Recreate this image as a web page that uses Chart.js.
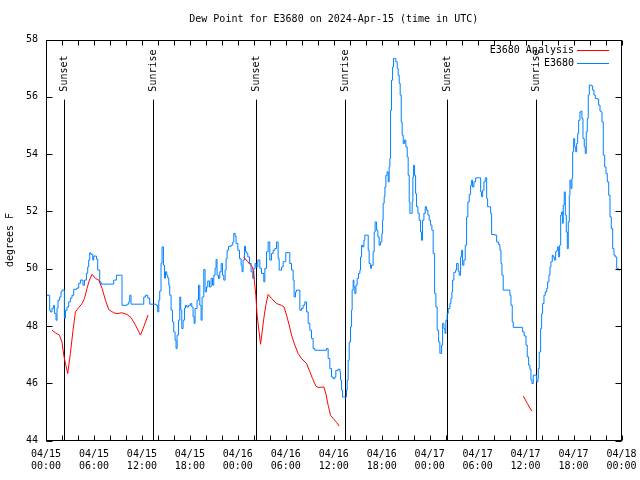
<!DOCTYPE html>
<html>
<head>
<meta charset="utf-8">
<script src="https://cdn.jsdelivr.net/npm/chart.js@4.4.1/dist/chart.umd.min.js"></script>
<style>
html,body{margin:0;padding:0;background:#fff;}
canvas{display:block;}
</style>
</head>
<body>
<canvas id="c" width="640" height="480"></canvas>
<script>
// ---- data (hours since 2024-04-15 00:00 UTC, degrees F) ----
const chartTitle = 'Dew Point for E3680 on 2024-Apr-15 (time in UTC)';
const yAxisTitle = 'degrees F';
const tickDates = ['04/15','04/15','04/15','04/15','04/16','04/16','04/16','04/16','04/17','04/17','04/17','04/17','04/18'];
const tickTimes = ['00:00','06:00','12:00','18:00','00:00','06:00','12:00','18:00','00:00','06:00','12:00','18:00','00:00'];
const seriesNames = ['E3680 Analysis', 'E3680'];
const sunsetHours = [2.25, 26.29, 50.19];
const sunriseHours = [13.39, 37.35, 61.33];

// observed station dew point [hour, degF]
const observed = [
[0.05,49.07],[0.46,48.55],[0.55,48.49],[0.75,48.62],[0.96,48.72],[1.05,48.44],[1.25,48.20],[1.38,48.62],[1.50,48.90],[1.71,49.01],
[1.88,49.19],[2.00,49.25],[2.30,48.27],[2.43,48.55],[2.63,48.66],[2.84,48.84],[3.05,48.97],[3.25,49.07],[3.47,49.28],[3.88,49.32],
[4.09,49.49],[4.31,49.60],[4.63,49.42],[4.81,49.60],[5.06,49.84],[5.22,50.06],[5.34,50.30],[5.47,50.55],[5.63,50.50],[5.85,50.30],
[5.97,50.44],[6.31,50.33],[6.47,49.95],[6.72,49.54],[6.88,49.46],[8.26,49.46],[8.47,49.60],[8.81,49.77],[9.31,49.77],[9.51,48.72],
[10.14,48.76],[10.35,48.84],[10.48,49.07],[10.64,48.76],[12.02,48.76],[12.23,49.01],[12.44,49.07],[12.73,48.97],[12.98,48.76],
[13.14,48.76],[13.77,48.72],[13.98,48.49],[14.11,48.90],[14.23,49.22],[14.39,50.19],[14.52,50.76],[14.69,50.12],[14.82,49.67],[14.95,49.89],
[15.11,49.77],[15.23,49.67],[15.36,49.42],[15.48,49.07],[15.65,48.55],[15.82,48.14],[15.98,47.79],[16.15,47.50],[16.27,47.21],[16.40,47.68],
[16.57,48.20],[16.74,49.01],[16.86,48.55],[16.99,47.91],[17.15,48.20],[17.32,48.62],[17.45,48.72],[17.61,48.66],[17.82,48.72],[18.07,48.78],
[18.24,48.66],[18.40,48.32],[18.53,48.09],[18.65,48.61],[18.90,48.90],[19.08,49.42],[19.24,48.72],[19.40,48.20],[19.53,49.01],[19.74,49.97],
[19.90,49.19],[20.08,49.36],[20.24,49.57],[20.45,49.36],[20.65,49.66],[20.83,49.42],[20.99,49.77],[21.15,50.01],[21.28,50.32],[21.40,49.77],
[21.58,49.66],[21.74,49.89],[21.91,50.18],[22.08,49.77],[22.24,49.60],[22.41,49.95],[22.53,50.35],[22.66,50.64],[22.83,50.78],[23.16,50.82],
[23.37,50.93],[23.50,51.23],[23.66,51.13],[23.78,50.88],[24.00,50.64],[24.21,50.35],[24.41,50.12],[24.53,49.89],[24.66,50.30],[24.83,50.78],
[24.96,50.59],[25.12,50.53],[25.25,50.41],[25.46,50.18],[25.66,49.89],[25.87,49.66],[26.00,50.01],[26.16,50.18],[26.29,50.06],[26.50,50.30],
[26.75,50.01],[26.96,49.83],[27.25,49.54],[27.38,50.01],[27.59,50.59],[27.79,50.93],[28.00,50.30],[28.21,50.53],[28.41,50.64],[28.63,50.70],
[28.84,50.93],[29.04,50.35],[29.17,49.95],[29.47,50.06],[29.67,50.24],[30.00,50.56],[30.29,50.56],[30.50,50.18],[30.72,49.95],[30.92,49.60],
[31.04,49.01],[31.22,49.19],[31.34,49.25],[31.54,49.25],[31.76,48.55],[31.97,48.61],[32.17,48.72],[32.38,48.84],[32.59,48.49],[32.80,48.09],
[33.01,47.85],[33.22,47.56],[33.42,47.21],[33.63,47.15],[35.10,47.21],[35.30,46.86],[35.51,46.51],[35.72,46.22],[35.92,46.16],[36.14,46.22],
[36.26,46.45],[36.55,46.49],[36.76,46.40],[36.85,46.11],[36.98,45.76],[37.10,45.52],[37.39,45.52],[37.60,45.76],[37.68,46.11],[37.80,46.80],
[37.93,47.44],[38.10,47.97],[38.23,48.55],[38.30,49.25],[38.43,49.60],[38.52,49.36],[38.64,49.13],[38.77,49.42],[38.93,49.66],[39.10,49.83],
[39.27,49.95],[39.35,50.41],[39.48,50.82],[39.60,50.76],[39.77,50.99],[39.89,51.17],[40.10,51.17],[40.31,50.64],[40.43,50.18],[40.61,50.01],
[40.73,50.12],[40.93,50.59],[41.06,51.28],[41.18,51.63],[41.36,51.34],[41.52,51.11],[41.68,50.82],[41.86,50.93],[42.02,51.23],[42.11,51.69],
[42.18,52.28],[42.31,52.51],[42.40,52.85],[42.52,53.26],[42.68,53.38],[42.81,53.03],[42.93,53.55],[43.02,53.85],[43.11,55.53],[43.23,56.58],
[43.36,57.04],[43.48,57.34],[43.65,57.34],[43.77,57.22],[43.94,56.99],[44.06,56.75],[44.19,56.47],[44.31,56.06],[44.44,55.12],[44.56,54.66],
[44.69,54.37],[44.86,54.49],[45.02,54.25],[45.19,53.90],[45.31,53.26],[45.44,52.33],[45.53,51.93],[45.74,51.93],[45.81,52.33],[45.90,53.20],
[45.99,53.61],[46.11,53.26],[46.24,52.62],[46.36,52.16],[46.53,51.93],[46.69,51.69],[46.86,51.28],[46.99,50.99],[47.11,51.69],[47.28,51.93],
[47.44,52.16],[47.61,52.04],[47.78,51.87],[47.94,51.69],[48.12,51.52],[48.28,51.34],[48.44,50.53],[48.62,49.13],[48.78,48.66],[48.94,47.85],
[49.12,47.44],[49.28,47.04],[49.41,47.04],[49.49,47.33],[49.62,48.09],[49.78,47.91],[49.91,47.74],[50.03,48.20],[50.19,48.43],[50.32,48.61],
[50.53,48.78],[50.66,48.96],[50.78,49.19],[50.87,49.60],[51.03,49.87],[51.25,49.95],[51.37,50.18],[51.57,49.91],[51.70,49.77],[51.87,50.41],
[52.00,50.64],[52.12,50.12],[52.28,50.30],[52.45,50.82],[52.62,51.81],[52.78,52.33],[52.95,52.59],[53.12,52.91],[53.25,53.09],[53.37,52.85],
[53.54,53.03],[53.75,53.17],[54.20,53.17],[54.38,52.68],[54.50,52.51],[54.63,52.74],[54.79,53.03],[54.95,53.17],[55.13,52.45],[55.25,52.16],
[55.45,52.16],[55.63,51.93],[55.75,51.19],[56.16,51.17],[56.38,50.93],[56.63,50.84],[56.79,50.64],[56.92,50.18],[57.04,49.77],[57.20,49.25],
[58.04,49.07],[58.17,48.72],[58.33,48.14],[58.46,47.95],[59.51,47.95],[59.63,47.79],[59.83,47.65],[60.05,47.33],[60.21,46.92],[60.38,46.63],
[60.54,46.49],[60.67,46.11],[60.80,45.99],[60.96,46.28],[61.17,46.28],[61.38,46.05],[61.55,46.16],[61.59,46.51],[61.71,47.09],[61.88,47.91],
[62.01,48.43],[62.13,48.78],[62.30,49.07],[62.46,49.19],[62.64,49.31],[62.76,49.54],[62.92,49.77],[63.05,50.06],[63.17,50.24],[63.34,50.47],
[63.46,50.41],[63.59,50.30],[63.76,50.59],[63.89,50.64],[64.01,50.76],[64.14,50.41],[64.26,50.82],[64.39,51.87],[64.51,51.98],[64.64,51.58],
[64.71,52.22],[64.84,52.68],[64.97,51.87],[65.09,51.28],[65.22,50.70],[65.34,51.63],[65.47,52.56],[65.55,53.09],[65.68,52.80],[65.80,53.15],
[65.89,54.08],[66.02,54.54],[66.14,54.25],[66.27,54.08],[66.39,54.37],[66.52,54.72],[66.64,55.18],[66.80,55.47],[66.93,55.50],[67.05,55.24],
[67.18,54.54],[67.34,54.25],[67.47,54.02],[67.59,54.78],[67.72,55.24],[67.84,56.06],[67.97,56.41],[68.22,56.38],[68.39,56.23],[68.56,56.06],
[68.72,55.94],[68.97,55.92],[69.14,55.71],[69.31,55.50],[69.47,55.47],[69.56,55.12],[69.72,53.96],[69.90,53.55],[70.06,53.32],[70.22,53.03],
[70.40,52.56],[70.56,51.81],[70.72,51.40],[70.90,50.70],[71.06,50.47],[71.22,50.41],[71.40,50.01],[71.60,49.95],[71.81,49.95]
];

// analysis dew point [hour, degF]; null marks a gap
const analysis = [
[0.75,47.85],[1.18,47.76],[1.68,47.68],[2.00,47.44],[2.22,46.98],[2.43,46.69],[2.72,46.34],[3.05,47.04],[3.38,47.85],[3.68,48.49],
[4.09,48.64],[4.51,48.78],[4.81,48.96],[5.13,49.31],[5.43,49.60],[5.76,49.80],[6.18,49.66],[6.60,49.60],[7.01,49.31],[7.44,48.90],
[7.85,48.57],[8.47,48.46],[8.89,48.43],[9.51,48.46],[10.14,48.40],[10.64,48.29],[11.19,48.03],[11.82,47.68],[12.23,47.97],[12.77,48.38],
[18.0,null],
[24.71,50.41],[25.25,50.24],[25.50,50.15],[25.84,50.06],[26.00,49.77],[26.25,49.07],[26.41,48.38],[26.66,47.79],[26.84,47.36],[27.04,47.79],
[27.25,48.26],[27.50,48.72],[27.79,49.10],[28.21,48.96],[28.84,48.78],[29.47,48.72],[29.79,48.66],[30.09,48.38],[30.42,48.03],[30.72,47.68],
[31.13,47.33],[31.54,47.04],[31.97,46.86],[32.59,46.69],[33.01,46.40],[33.35,46.16],[33.76,45.90],[34.05,45.85],[34.76,45.87],[35.01,45.64],
[35.30,45.23],[35.60,44.88],[35.92,44.77],[36.35,44.63],[36.68,44.50],
[48.0,null],
[59.71,45.55],[60.23,45.29],[60.76,45.03]
];

// ---- drawing ----
const FONT = "'DejaVu Sans Mono', monospace";
const RED = 'rgb(255,0,0)';
const BLUE = 'rgb(0,128,255)';

const gnuplotFrame = {
  id: 'gnuplotFrame',
  beforeDatasetsDraw(chart) {
    const {ctx, chartArea: a, scales: {x}} = chart;
    ctx.save();
    ctx.strokeStyle = '#000';
    ctx.lineWidth = 1;
    const h = a.bottom - a.top;
    const lineTop = a.bottom - 0.85 * h;
    const labelStart = a.bottom - 0.87 * h;
    ctx.font = '10px ' + FONT;
    ctx.fillStyle = '#000';
    const drawSun = (hours, text) => {
      hours.forEach(t => {
        const px = Math.round(x.getPixelForValue(t)) + 0.5;
        ctx.beginPath();
        ctx.moveTo(px, lineTop);
        ctx.lineTo(px, a.bottom);
        ctx.stroke();
        ctx.save();
        ctx.translate(px, labelStart);
        ctx.rotate(-Math.PI / 2);
        ctx.textAlign = 'left';
        ctx.textBaseline = 'middle';
        ctx.fillText(text, 0, 0);
        ctx.restore();
      });
    };
    drawSun(sunsetHours, 'Sunset');
    drawSun(sunriseHours, 'Sunrise');
    ctx.restore();
  },
  afterDatasetsDraw(chart) {
    // gnuplot-style key, top right inside the plot
    const {ctx, chartArea: a} = chart;
    const colors = [RED, BLUE];
    seriesNames.forEach((name, i) => {
      const ky = Math.floor(a.top) + 11 + Math.round(i * 12.5);
      ctx.save();
      ctx.font = '10px ' + FONT;
      ctx.fillStyle = '#000';
      ctx.textAlign = 'right';
      ctx.textBaseline = 'middle';
      ctx.fillText(name, a.right - 47.5, ky);
      ctx.restore();
      ctx.save();
      ctx.globalAlpha = 1;
      ctx.strokeStyle = colors[i];
      ctx.lineWidth = 1;
      ctx.setLineDash([]);
      ctx.beginPath();
      ctx.moveTo(Math.round(a.right - 45), ky + 0.5);
      ctx.lineTo(Math.round(a.right - 13), ky + 0.5);
      ctx.stroke();
      ctx.restore();
    });
  },
  afterDraw(chart) {
    const {ctx, chartArea: a, scales: {x, y}} = chart;
    ctx.save();
    ctx.strokeStyle = '#000';
    ctx.lineWidth = 1;
    const L = Math.round(a.left) + 0.5, R = Math.round(a.right) - 0.5;
    const T = Math.round(a.top) + 0.5, B = Math.round(a.bottom) - 0.5;
    ctx.beginPath();
    x.ticks.forEach(t => {
      const px = Math.round(x.getPixelForValue(t.value)) + 0.5;
      ctx.moveTo(px, B); ctx.lineTo(px, B - 5);
      ctx.moveTo(px, T); ctx.lineTo(px, T + 5);
    });
    y.ticks.forEach(t => {
      const py = Math.round(y.getPixelForValue(t.value)) + 0.5;
      ctx.moveTo(L, py); ctx.lineTo(L + 6, py);
      ctx.moveTo(R, py); ctx.lineTo(R - 6, py);
    });
    ctx.stroke();
    ctx.strokeRect(L, T, R - L, B - T);
    ctx.font = '10px ' + FONT;
    ctx.fillStyle = '#000';
    // title, centred over the plot area
    ctx.textAlign = 'center';
    ctx.textBaseline = 'middle';
    ctx.fillText(chartTitle, (a.left + a.right) / 2, 19);
    ctx.restore();
  }
};

const tickFont = {family: FONT, size: 10, weight: 'normal'};

new Chart(document.getElementById('c'), {
  type: 'line',
  data: {
    datasets: [
      {
        label: seriesNames[0],
        data: analysis.map(p => ({x: p[0], y: p[1]})),
        borderColor: RED, borderWidth: 1, pointRadius: 0, spanGaps: false, tension: 0, fill: false
      },
      {
        label: seriesNames[1],
        data: observed.map(p => ({x: p[0], y: p[1]})),
        borderColor: BLUE, borderWidth: 1, pointRadius: 0, stepped: true, fill: false
      }
    ]
  },
  options: {
    responsive: false,
    animation: false,
    devicePixelRatio: 1,
    layout: {padding: {top: 39.5, right: 18.5, bottom: 0, left: 0}},
    plugins: {
      legend: {display: false},
      tooltip: {enabled: false},
      title: {display: false}
    },
    scales: {
      x: {
        type: 'linear', min: 0, max: 72,
        grid: {display: false, drawTicks: false},
        border: {display: false},
        ticks: {
          stepSize: 2, autoSkip: false, maxRotation: 0, minRotation: 0, padding: 8,
          color: '#000', font: tickFont,
          callback: v => (v % 6 === 0 ? [tickDates[v / 6], tickTimes[v / 6]] : '')
        },
        afterFit(s) { s.height = 39.5; s.paddingLeft = 0; s.paddingRight = 0; }
      },
      y: {
        min: 44, max: 58,
        grid: {display: false, drawTicks: false},
        border: {display: false},
        ticks: {stepSize: 2, padding: 8, color: '#000', font: tickFont},
        title: {display: true, text: yAxisTitle, color: '#000', font: tickFont, padding: {top: 4, bottom: 0}},
        afterFit(s) { s.width = 46; s.paddingTop = 0; s.paddingBottom = 0; }
      }
    }
  },
  plugins: [gnuplotFrame]
});
</script>
</body>
</html>
